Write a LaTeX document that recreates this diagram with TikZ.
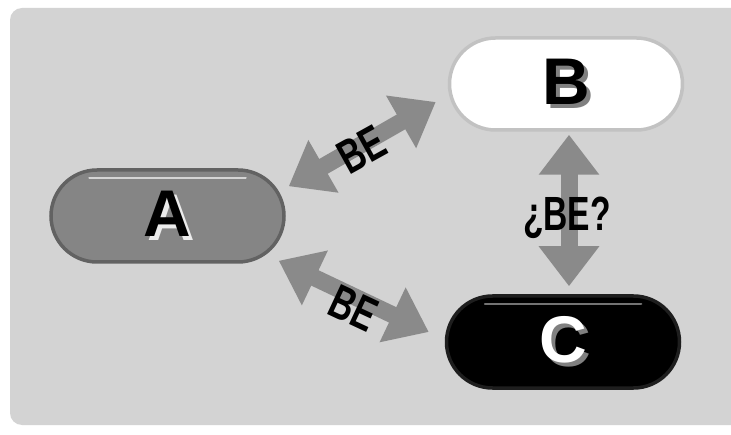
\documentclass[tikz,border=0pt]{standalone}
\usepackage{fontspec}
\setmainfont{Liberation Sans}
\usetikzlibrary{arrows.meta,calc}

\definecolor{panelgray}{HTML}{D3D3D3}
\definecolor{arrowgray}{HTML}{8A8A8A}
\definecolor{pillA}{HTML}{858585}
\definecolor{pillAedge}{HTML}{626262}
\definecolor{pillBedge}{HTML}{C2C2C2}
\definecolor{pillCedge}{HTML}{1E1E1E}

% letter with a drop shadow: #1 letter colour, #2 shadow colour, #3 text
\newcommand\embossed[3]{\makebox[0pt][l]{\kern4pt\raisebox{-4pt}{\color{#2}#3}}{\color{#1}#3}}
% condensed label text
\newcommand\narrowtext[1]{\scalebox{0.7}[1]{#1}}

\begin{document}
\begin{tikzpicture}[x=1pt,y=1pt,
  pill/.style={rectangle, rounded corners=46pt, minimum width=233pt,
    minimum height=92pt, line width=3.5pt, inner sep=0pt,
    font=\fontsize{66}{66}\selectfont\bfseries},
  link/.style={draw=arrowgray, line width=17pt,
    {Triangle[width=58pt,length=40pt]}-{Triangle[width=58pt,length=40pt]}},
  tag/.style={inner sep=0pt, font=\fontsize{48}{48}\selectfont\bfseries}]

\useasboundingbox (0,0) rectangle (731,434);
\clip (0,0) rectangle (731,434);

% background panel
\fill[panelgray, rounded corners=12pt] (10,9) rectangle (760,426);

% the three boxes
\node[pill, fill=pillA, draw=pillAedge] (A) at (167.5,218)
  {\embossed{black}{white!85!gray}{A}};
\node[pill, fill=white, draw=pillBedge] (B) at (566,350)
  {\embossed{black}{gray}{B}};
\node[pill, fill=black, draw=pillCedge] (C) at (563,92)
  {\embossed{white}{gray}{C}};

% top highlights on the boxes
\draw[white!65!pillA, line width=2pt, line cap=round]
  ($(A.north west)+(40,-10)$) -- ($(A.north east)+(-40,-10)$);
\draw[black!55!white, line width=2pt, line cap=round]
  ($(C.north west)+(40,-10)$) -- ($(C.north east)+(-40,-10)$);

% connectors
\draw[link] ($(A.north east)+(3,-18)$) -- ($(B.west)+(-12,-18)$);
\draw[link] ($(A.south east)+(-7,3)$) -- ($(C.west)+(-16,10)$);
\draw[link] ($(B.south)+(3,-3)$) -- ($(C.north)+(6,8)$);

% connector labels
\node[tag, rotate=29] (lab) at (362,284) {\narrowtext{BE}};
\node[tag, rotate=-25] (lac) at (354,126) {\narrowtext{BE}};
\node[tag] (lbc) at (567,216) {\narrowtext{¿BE?}};
\end{tikzpicture}
\end{document}
